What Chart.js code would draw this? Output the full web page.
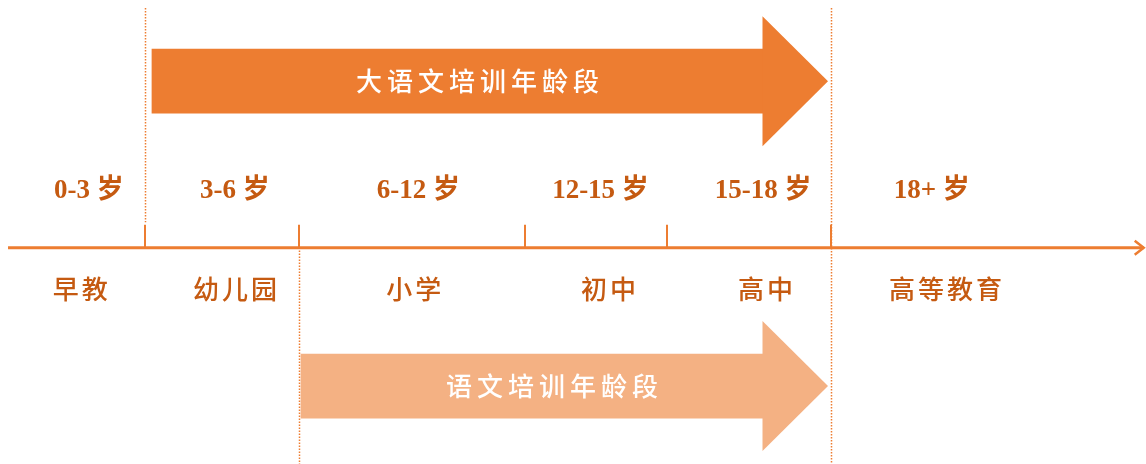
<!doctype html>
<html lang="zh">
<head>
  <meta charset="utf-8">
  <title>语文培训年龄段</title>
  <style>
    * { margin: 0; padding: 0; }
    body { background: white; }
    .chartBox { width: 1146px; height: 464px; position: relative; }
  </style>
</head>
<body>
<div class="chartBox">
  <canvas id="myChart"></canvas>
</div>

<script src="https://cdn.jsdelivr.net/npm/chart.js"></script>
<script>
  // data (x: position along the timeline 0-100, y: row 0-100 from top)
  const ageLabels = ['0-3 岁', '3-6 岁', '6-12 岁', '12-15 岁', '15-18 岁', '18+ 岁'];
  const stages = ['早教', '幼儿园', '小学', '初中', '高中', '高等教育'];
  const boundaries = [12.65, 26.09, 45.81, 58.2, 72.51];   // 3, 6, 12, 15, 18 岁
  const ageLabelX = [7.75, 20.5, 36.5, 52.4, 66.6, 81.3];
  const stageLabelX = [7.0, 20.5, 36.1, 53.1, 66.8, 82.5];
  const spanLabels = ['大语文培训年龄段', '语文培训年龄段'];
  const spanStart = [13.26, 26.26];
  const spanEnd = [66.58, 66.58];   // where the arrow head starts
  const spanRow = [17.5, 83.2];

  const ORANGE = '#ED7D31';
  const LIGHT = '#F4B183';
  const TEXT = '#C55A11';

  // draws the timeline, guides, labels and the arrow heads
  const timeline = {
    id: 'timeline',
    beforeDatasetsDraw(chart) {
      const ctx = chart.ctx;
      const x = chart.scales.x, y = chart.scales.y;
      const px = v => x.getPixelForValue(v);
      const py = v => y.getPixelForValue(v);
      ctx.save();

      // dotted guides
      ctx.strokeStyle = ORANGE;
      ctx.lineWidth = 1.5;
      ctx.setLineDash([1.5, 1.5]);
      const guides = [[boundaries[0], 1.7, 47.9], [boundaries[1], 54, 100], [boundaries[4], 1.7, 100]];
      guides.forEach(g => {
        ctx.beginPath();
        ctx.moveTo(Math.round(px(g[0])) + 0.5, py(g[1]));
        ctx.lineTo(Math.round(px(g[0])) + 0.5, py(g[2]));
        ctx.stroke();
      });
      ctx.setLineDash([]);

      // main axis
      const axisY = py(53.4);
      ctx.lineWidth = 3;
      ctx.beginPath();
      ctx.moveTo(px(0.7), axisY);
      ctx.lineTo(px(99.8), axisY);
      ctx.stroke();
      ctx.lineWidth = 2.5;
      ctx.beginPath();
      ctx.moveTo(px(99.8) - 9, axisY - 7);
      ctx.lineTo(px(99.8), axisY);
      ctx.lineTo(px(99.8) - 9, axisY + 7);
      ctx.stroke();

      // tick marks
      ctx.lineWidth = 2;
      boundaries.forEach(b => {
        ctx.beginPath();
        ctx.moveTo(Math.round(px(b)), axisY - 23);
        ctx.lineTo(Math.round(px(b)), axisY);
        ctx.stroke();
      });

      // labels
      ctx.fillStyle = TEXT;
      ctx.textAlign = 'center';
      ctx.textBaseline = 'middle';
      ctx.font = 'bold 27px "Liberation Serif", "Noto Sans CJK SC"';
      ageLabels.forEach((t, i) => ctx.fillText(t, px(ageLabelX[i]), py(41.1)));
      ctx.font = '500 26px "Noto Sans CJK SC"';
      ctx.letterSpacing = '3px';
      stages.forEach((t, i) => ctx.fillText(t, px(stageLabelX[i]) + 1.5, py(62.3)));
      ctx.restore();
    },
    afterDatasetsDraw(chart) {
      const ctx = chart.ctx;
      const meta = chart.getDatasetMeta(0);
      const colors = chart.data.datasets[0].backgroundColor;
      ctx.save();
      meta.data.forEach((bar, i) => {
        const head = 65, half = 65;
        ctx.fillStyle = colors[i];
        ctx.beginPath();
        ctx.moveTo(bar.x - 0.5, bar.y - half);
        ctx.lineTo(bar.x + head, bar.y);
        ctx.lineTo(bar.x - 0.5, bar.y + half);
        ctx.closePath();
        ctx.fill();
        ctx.fillStyle = 'white';
        ctx.textAlign = 'center';
        ctx.textBaseline = 'middle';
        ctx.font = '500 26px "Noto Sans CJK SC"';
        ctx.letterSpacing = '5px';
        ctx.fillText(spanLabels[i], (bar.base + bar.x + head) / 2 - 10, bar.y);
      });
      ctx.restore();
    }
  };

  const config = {
    type: 'bar',
    data: {
      datasets: [{
        data: spanRow.map((r, i) => ({ y: r, x: [spanStart[i], spanEnd[i]] })),
        backgroundColor: [ORANGE, LIGHT],
        borderWidth: 0,
        barThickness: 64
      }]
    },
    options: {
      indexAxis: 'y',
      responsive: true,
      maintainAspectRatio: false,
      animation: false,
      layout: { padding: 0 },
      scales: {
        x: { type: 'linear', min: 0, max: 100, display: false },
        y: { type: 'linear', min: 0, max: 100, reverse: true, offset: false, display: false }
      },
      plugins: {
        legend: { display: false },
        tooltip: { enabled: false }
      }
    },
    plugins: [timeline]
  };

  new Chart(document.getElementById('myChart'), config);
</script>
</body>
</html>
